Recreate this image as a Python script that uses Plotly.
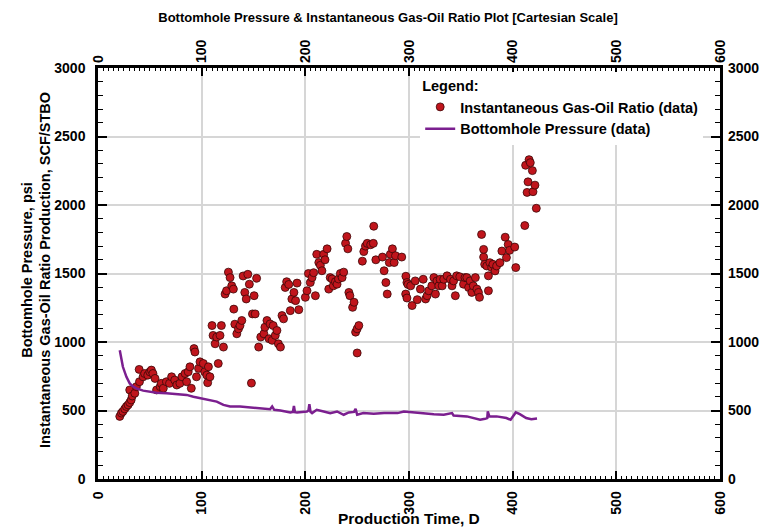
import plotly.graph_objects as go

# Instantaneous GOR (data) - days, SCF/STBO
gor_days = [21, 22.6, 24, 25.8, 27.4, 29, 30.6, 30.6, 32, 33, 35.5, 37, 39.7, 40, 43.5, 45, 48, 50,
            51.5, 53, 55, 56.5, 60, 61, 63, 66, 69, 71, 74, 76, 79, 81, 84, 85.5, 87, 88.7, 90,
            92.6, 93.5, 95, 97, 98.4, 101.6, 103, 105, 105.8, 106.5, 108, 110, 111, 113, 114.5,
            116, 117.7, 119, 121, 122.6, 124, 125.8, 127.4, 129, 130.6, 131, 132, 133.9, 135.5,
            137, 138.7, 140, 141.6, 143, 144.5, 146, 148, 149, 150.6, 151.6, 153, 155, 157, 160,
            161, 163, 165, 166, 168, 169, 171, 172.6, 174, 176, 177.5, 179, 180.6, 182, 184,
            185.5, 187, 189, 190.6, 192, 193.7, 200, 201.6, 203, 204.8, 206.5, 208, 209.7, 211,
            213, 214.5, 216, 217.7, 219, 221, 222.6, 224, 225.8, 227, 229, 230.6, 232, 233.8,
            235.5, 237, 238.8, 240, 241, 242, 243, 245.6, 247, 248.5, 250, 250, 251.6, 255,
            256.4, 258, 259.7, 263, 265.6, 266, 268, 274.4, 276, 277.7, 279, 281, 282, 284,
            285.7, 287, 293, 296.8, 297, 298, 298, 299, 301.6, 303, 306, 308, 311, 313.7, 316,
            317.5, 319, 322, 324, 325.5, 327, 328.7, 330, 332, 333.5, 336.7, 340, 341.5, 343,
            344.7, 346, 349, 352.6, 354, 355.8, 357.5, 359, 360.6, 362, 364, 365.5, 367, 368,
            370, 372, 372, 373, 375, 376.6, 376.6, 378, 379.8, 381, 383, 384.5, 387.7, 389.6,
            392.8, 394, 395.7, 397, 402, 403, 411.7, 412.5, 413.9, 414.8, 415.8, 417, 419,
            419.6, 421.5, 422.8]
gor_vals = [457, 481, 493, 512, 529, 541, 558, 650, 577, 606, 626, 674, 800, 710, 746, 770, 758, 782,
            795, 770, 734, 650, 674, 698, 662, 710, 698, 746, 722, 686, 698, 746, 770, 710, 782,
            819, 662, 952, 927, 746, 807, 855, 843, 782, 758, 703, 819, 746, 1120, 1048, 987,
            1036, 843, 1048, 1120, 963, 1350, 1374, 1510, 1470, 1410, 1386, 1240, 1130, 1060,
            1096, 1120, 1157, 1482, 1362, 1314, 1494, 1422, 700, 1205, 1338, 1205, 1465, 963,
            1036, 1060, 1108, 1157, 1024, 1132, 1012, 1120, 1048, 1084, 987, 963, 1193, 1169,
            1398, 1440, 1420, 1229, 1314, 1362, 1302, 1430, 1236, 1326, 1374, 1500, 1434, 1470,
            1506, 1338, 1640, 1580, 1560, 1520, 1640, 1600, 1680, 1386, 1470, 1460, 1410, 1440,
            1422, 1460, 1500, 1470, 1510, 1720, 1770, 1680, 1362, 1338, 1253, 1290, 1072, 1096,
            920, 1120, 1590, 1660, 1700, 1720, 1710, 1720, 1845, 1600, 1620, 1520, 1434, 1350,
            1580, 1640, 1680, 1580, 1630, 1620, 1350, 1480, 1434, 1321, 1420, 1410, 1266, 1446,
            1309, 1386, 1458, 1314, 1338, 1374, 1410, 1470, 1350, 1446, 1410, 1458, 1410, 1458,
            1483, 1458, 1410, 1446, 1338, 1483, 1476, 1422, 1470, 1470, 1398, 1446, 1362, 1410,
            1470, 1386, 1362, 1326, 1785, 1620, 1676, 1567, 1555, 1483, 1374, 1579, 1543, 1567,
            1519, 1555, 1579, 1664, 1765, 1616, 1712, 1669, 1693, 1543, 1850, 2290, 2092, 2169,
            2331, 2309, 2251, 2097, 2145, 1976]

# Bottomhole pressure (data) - days, psi
bhp_days = [21, 24, 27.4, 30.6, 34, 37, 43.5, 50, 56.5, 66, 76, 85.5, 92, 100, 108, 114.5, 121,
            127.4, 137, 146.8, 160, 166, 168, 170, 176, 185.5, 188, 189, 190, 192, 201.6, 203,
            203.9, 205, 206.5, 211, 217.7, 224, 230.6, 237, 242, 247, 248.5, 250, 256, 266, 276,
            289, 295, 301.6, 311, 324, 333.5, 341.5, 343, 355.8, 368.6, 373.4, 375.5, 376,
            377.5, 384.5, 394, 398, 403, 406.9, 413, 418, 423.5]
bhp_vals = [940, 819, 746, 698, 674, 662, 645, 638, 630, 626, 621, 614, 601, 589, 572, 565, 541,
            529, 529, 524, 517, 510, 530, 505, 500, 486, 490, 534, 488, 486, 493, 500, 546, 490,
            481, 505, 493, 481, 493, 469, 486, 490, 512, 469, 481, 476, 481, 481, 493, 486, 481,
            473, 469, 481, 464, 457, 432, 440, 445, 493, 457, 457, 445, 432, 486, 473, 445, 437,
            442]

x_ticks = [0, 100, 200, 300, 400, 500, 600]
y_ticks = [0, 500, 1000, 1500, 2000, 2500, 3000]

SANS = "Liberation Sans, Arial, sans-serif"
TICKFONT = dict(family=SANS, size=14, color="black", weight="bold")

fig = go.Figure()
fig.add_trace(go.Scatter(
    x=gor_days, y=gor_vals, mode="markers", name="Instantaneous Gas-Oil Ratio (data)",
    marker=dict(size=8, color="#c0151c", line=dict(color="#3a0808", width=0.8)),
))
fig.add_trace(go.Scatter(
    x=bhp_days, y=bhp_vals, mode="lines", name="Bottomhole Pressure (data)",
    line=dict(color="#7b1f8f", width=2.5),
))
# invisible carrier so the mirrored top/right axes get drawn with labels
fig.add_trace(go.Scatter(
    x=bhp_days, y=bhp_vals, xaxis="x2", yaxis="y2", mode="lines",
    line=dict(width=0, color="rgba(0,0,0,0)"), showlegend=False, hoverinfo="skip",
))

common_x = dict(range=[0, 600], tickvals=x_ticks, ticktext=[str(v) for v in x_ticks],
                tickangle=-90, ticks="inside", ticklen=8, tickwidth=1.5, tickcolor="black",
                minor=dict(dtick=5, ticks="inside", ticklen=3, tickcolor="black", tickwidth=1),
                tickfont=TICKFONT, zeroline=False, automargin=False, ticklabelstandoff=4)
common_y = dict(range=[0, 3000], tickvals=y_ticks, ticktext=[str(v) for v in y_ticks],
                ticks="inside", ticklen=9, tickwidth=1.5, tickcolor="black",
                minor=dict(dtick=100, ticks="inside", ticklen=5, tickcolor="black", tickwidth=1),
                tickfont=TICKFONT, zeroline=False, automargin=False, ticklabelstandoff=7)

fig.update_layout(
    width=776, height=530,
    margin=dict(l=98, r=56, t=68, b=51),
    paper_bgcolor="white", plot_bgcolor="white",
    title=dict(text="Bottomhole Pressure & Instantaneous Gas-Oil Ratio Plot [Cartesian Scale]",
               x=0.5, xanchor="center", y=0.968, yanchor="middle",
               font=dict(family=SANS, size=13, color="black", weight="bold")),
    xaxis=dict(**common_x, showgrid=True, gridcolor="#d6d6d6", gridwidth=1.5,
               showline=True, linecolor="black", linewidth=2.5, mirror=True),
    xaxis2=dict(**common_x, overlaying="x", side="top", showgrid=False, showline=False),
    yaxis=dict(**common_y, showgrid=True, gridcolor="#d6d6d6", gridwidth=1.5,
               showline=True, linecolor="black", linewidth=2.5, mirror=True),
    yaxis2=dict(**common_y, overlaying="y", side="right", showgrid=False, showline=False),
    legend=dict(x=0.518, y=0.99, xanchor="left", yanchor="top",
                bgcolor="white", borderwidth=0,
                title=dict(text="Legend:", font=dict(family=SANS, size=14.5,
                                                     color="black", weight="bold")),
                font=dict(family=SANS, size=14.5, color="black", weight="bold"),
                tracegroupgap=2, itemwidth=30),
    showlegend=True,
    annotations=[
        dict(text="Production Time, D", xref="paper", yref="paper", x=0.5, y=-0.095,
             xanchor="center", yanchor="middle", showarrow=False,
             font=dict(family=SANS, size=15.5, color="black", weight="bold")),
        dict(text="Bottomhole Pressure, psi<br>Instantaneous Gas-Oil Ratio Production, SCF/STBO",
             xref="paper", yref="paper", x=-0.1, y=0.508, xanchor="center", yanchor="middle",
             textangle=-90, showarrow=False, align="center",
             font=dict(family=SANS, size=14.5, color="black", weight="bold")),
    ],
)

fig.write_html("out.html")
